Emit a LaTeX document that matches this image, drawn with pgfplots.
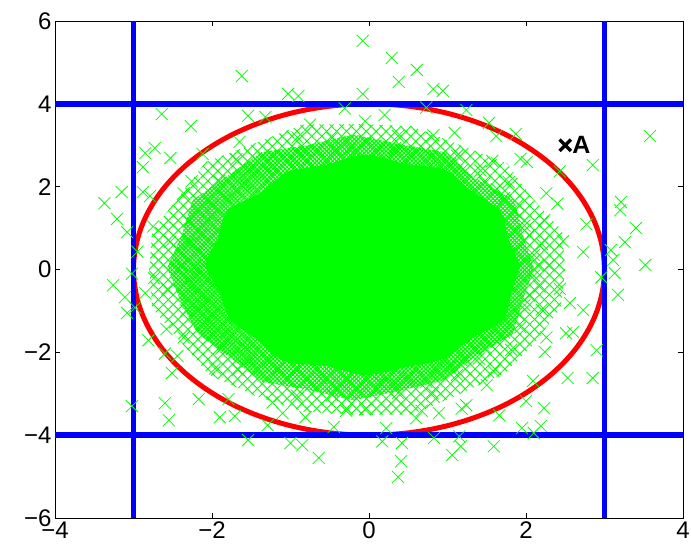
\documentclass[border=0pt]{standalone}
\usepackage{fontspec}
\setmainfont{Liberation Sans}
\usepackage{pgfplots}
\pgfplotsset{compat=1.18}
\usetikzlibrary{patterns.meta}
\definecolor{mgreen}{rgb}{0,1,0}
\definecolor{mblue}{rgb}{0,0,1}
\definecolor{mred}{rgb}{1,0,0}
\begin{document}
\begin{tikzpicture}
\path[use as bounding box] (-55pt,-39pt) rectangle (636pt,518pt);
\begin{axis}[
  scale only axis, width=628pt, height=497pt,
  xmin=-4, xmax=4, ymin=-6, ymax=6,
  xtick={-4,-2,0,2,4}, xticklabels={−4,−2,0,2,4},
  ytick={-6,-4,-2,0,2,4,6}, yticklabels={−6,−4,−2,0,2,4,6},
  tick align=inside, major tick length=5pt,
  tick style={black, line width=0.8pt},
  axis line style={black, line width=0.9pt},
  ticklabel style={font=\fontsize{24}{28}\selectfont},
  every axis plot/.append style={line join=round},
]
% outer, thinner part of the cloud (overlapping crosses)
\addplot[draw=none, pattern={Lines[angle=45,distance=7pt,line width=0.9pt]}, pattern color=mgreen] coordinates {
(2.50,0.00) (2.46,0.94) (2.08,1.72) (1.76,2.56) (1.15,3.01) (0.54,3.46) (-0.15,3.51) (-0.85,3.50)
(-1.46,3.04) (-2.08,2.59) (-2.42,1.76) (-2.76,0.94) (-2.80,0.00) (-2.76,-0.94) (-2.40,-1.74) (-2.04,-2.54)
(-1.46,-3.04) (-0.84,-3.43) (-0.15,-3.51) (0.55,-3.50) (1.15,-3.01) (1.72,-2.51) (2.12,-1.76) (2.44,-0.93)
} -- cycle;
\addplot[draw=none, pattern={Lines[angle=-45,distance=7pt,line width=0.9pt]}, pattern color=mgreen] coordinates {
(2.50,0.00) (2.46,0.94) (2.08,1.72) (1.76,2.56) (1.15,3.01) (0.54,3.46) (-0.15,3.51) (-0.85,3.50)
(-1.46,3.04) (-2.08,2.59) (-2.42,1.76) (-2.76,0.94) (-2.80,0.00) (-2.76,-0.94) (-2.40,-1.74) (-2.04,-2.54)
(-1.46,-3.04) (-0.84,-3.43) (-0.15,-3.51) (0.55,-3.50) (1.15,-3.01) (1.72,-2.51) (2.12,-1.76) (2.44,-0.93)
} -- cycle;
% dense part of the cloud
\addplot[draw=none, pattern={Lines[angle=45,distance=2.8pt,line width=1.1pt]}, pattern color=mgreen] coordinates {
(2.10,0.05) (1.96,0.84) (1.85,1.67) (1.36,2.19) (0.97,2.83) (0.38,3.03) (-0.20,3.26) (-0.78,3.00)
(-1.37,2.83) (-1.81,2.25) (-2.25,1.67) (-2.38,0.85) (-2.57,0.05) (-2.40,-0.76) (-2.19,-1.53) (-1.78,-2.11)
(-1.36,-2.71) (-0.78,-2.90) (-0.20,-3.16) (0.38,-2.93) (0.95,-2.68) (1.36,-2.09) (1.83,-1.56) (1.96,-0.74)
} -- cycle;
\addplot[draw=none, pattern={Lines[angle=-45,distance=2.8pt,line width=1.1pt]}, pattern color=mgreen] coordinates {
(2.10,0.05) (1.96,0.84) (1.85,1.67) (1.36,2.19) (0.97,2.83) (0.38,3.03) (-0.20,3.26) (-0.78,3.00)
(-1.37,2.83) (-1.81,2.25) (-2.25,1.67) (-2.38,0.85) (-2.57,0.05) (-2.40,-0.76) (-2.19,-1.53) (-1.78,-2.11)
(-1.36,-2.71) (-0.78,-2.90) (-0.20,-3.16) (0.38,-2.93) (0.95,-2.68) (1.36,-2.09) (1.83,-1.56) (1.96,-0.74)
} -- cycle;
% solid core of the cloud
\addplot[fill=mgreen, draw=mgreen, line width=1pt, smooth] coordinates {
(1.92,0.10) (1.77,0.74) (1.67,1.40) (1.31,1.87) (0.97,2.39) (0.46,2.54)
(-0.05,2.76) (-0.54,2.52) (-1.04,2.34) (-1.38,1.84) (-1.79,1.42) (-1.92,0.76)
(-2.07,0.10) (-1.90,-0.55) (-1.76,-1.20) (-1.42,-1.69) (-1.07,-2.21) (-0.54,-2.32)
(-0.05,-2.54) (0.46,-2.35) (0.95,-2.14) (1.30,-1.66) (1.70,-1.22) (1.81,-0.55) (1.92,0.10)
} -- cycle;
% scattered samples
\addplot[only marks, mark=x, mark size=8.5pt, mgreen, mark options={line width=0.75pt}] coordinates {
(2.15,0.10) (2.20,0.62) (1.98,1.06) (1.90,1.57) (1.63,1.94) (1.42,2.39) (1.03,2.54) (0.72,2.86)
(0.33,2.93) (-0.05,3.08) (-0.43,2.88) (-0.82,2.86) (-1.15,2.58) (-1.52,2.39) (-1.70,1.91) (-2.00,1.57)
(-2.11,1.08) (-2.30,0.62) (-2.21,0.10) (-2.27,-0.41) (-2.11,-0.88) (-2.03,-1.39) (-1.70,-1.71) (-1.50,-2.15)
(-1.15,-2.38) (-0.83,-2.71) (-0.43,-2.68) (-0.05,-2.84) (0.33,-2.73) (0.73,-2.71) (1.03,-2.34) (1.40,-2.15)
(1.63,-1.74) (1.93,-1.39) (1.98,-0.86) (2.17,-0.41)
(2.10,0.35) (2.04,0.83) (1.91,1.29) (1.72,1.72) (1.48,2.09) (1.19,2.41) (0.86,2.66) (0.51,2.82)
(0.14,2.91) (-0.24,2.91) (-0.61,2.82) (-0.96,2.66) (-1.29,2.41) (-1.58,2.09) (-1.82,1.72) (-2.01,1.29)
(-2.14,0.83) (-2.20,0.35) (-2.20,-0.15) (-2.14,-0.63) (-2.01,-1.09) (-1.82,-1.52) (-1.58,-1.89) (-1.29,-2.21)
(-0.96,-2.46) (-0.61,-2.62) (-0.24,-2.71) (0.14,-2.71) (0.51,-2.62) (0.86,-2.46) (1.19,-2.21) (1.48,-1.89)
(1.72,-1.52) (1.91,-1.09) (2.04,-0.63) (2.10,-0.15)
(2.29,0.10) (2.47,0.68) (2.23,1.19) (2.26,1.84) (1.78,2.11) (1.57,2.62) (1.12,2.75) (0.82,3.24)
(0.37,3.22) (-0.05,3.58) (-0.47,3.18) (-0.91,3.19) (-1.22,2.75) (-1.69,2.66) (-1.91,2.14) (-2.36,1.84)
(-2.30,1.17) (-2.53,0.67) (-2.39,0.10) (-2.57,-0.48) (-2.33,-0.99) (-2.36,-1.64) (-1.88,-1.91) (-1.67,-2.42)
(-1.22,-2.55) (-0.92,-3.04) (-0.47,-3.03) (-0.05,-3.38) (0.37,-2.98) (0.81,-2.99) (1.12,-2.55) (1.59,-2.46)
(1.81,-1.94) (2.26,-1.64) (2.20,-0.97) (2.43,-0.47)
(2.73,0.42) (2.77,1.09) (2.40,1.59) (2.43,2.37) (1.93,2.67) (1.62,3.22) (1.09,3.30) (0.73,3.91)
(0.20,3.73) (-0.31,3.89) (-0.75,3.50) (-1.32,3.68) (-1.65,3.08) (-2.12,2.79) (-2.26,2.13) (-2.79,1.77)
(-2.75,1.04) (-2.95,0.43) (-2.74,-0.21) (-2.98,-0.92) (-2.58,-1.44) (-2.44,-2.09) (-1.96,-2.39) (-1.79,-3.13)
(-1.23,-3.21) (-0.81,-3.57) (-0.29,-3.41) (0.22,-3.83) (0.67,-3.41) (1.18,-3.36) (1.50,-2.79) (2.09,-2.69)
(2.24,-1.99) (2.60,-1.51) (2.56,-0.81) (2.96,-0.19)
(-0.08,5.52) (-1.62,4.67) (-1.03,4.24) (-0.90,4.19) (-2.64,3.75) (-2.27,3.46) (-0.08,4.24) (-1.54,3.71)
(0.29,5.11) (0.61,4.82) (0.38,4.53) (0.82,4.36) (0.94,4.31) (3.58,3.22) (1.24,3.85) (1.53,3.54)
(1.87,3.27) (2.01,2.60) (2.85,2.52)
(-3.02,-3.30) (-2.60,-3.23) (-2.55,-3.64) (-2.17,-3.13) (-1.90,-3.57) (-1.71,-3.54) (-1.54,-4.12) (-1.00,-4.19)
(-0.85,-4.24) (-0.64,-4.55) (-1.29,-3.76) (-1.10,-3.47) (-0.45,-3.80)
(0.17,-4.15) (0.42,-4.19) (0.41,-4.63) (0.37,-5.01) (0.83,-4.07) (1.06,-4.48) (1.17,-4.27) (1.59,-4.27)
(1.15,-4.03) (1.95,-3.83) (2.10,-3.95) (2.19,-3.78) (2.23,-3.35) (2.00,-3.18) (1.66,-3.52) (1.24,-3.28)
(0.89,-3.47) (0.60,-3.59)
(-3.37,1.60) (-3.21,1.22) (-3.26,-0.38) (-3.15,1.87) (-3.08,0.90) (-3.08,-1.05) (-3.11,-0.67) (-3.02,-0.10)
(-2.88,2.47) (-2.85,2.81) (-2.88,1.87) (-2.73,2.93) (-2.53,2.69) (-2.81,-1.71) (-2.85,-0.57) (-2.60,-2.03)
(-2.51,-2.50)
(3.21,1.63) (3.20,1.43) (3.40,1.00) (3.26,0.66) (3.52,0.11) (3.13,-0.09) (3.17,-0.61) (3.08,0.47)
(3.11,0.23) (2.85,-2.62) (2.90,-1.95) (2.51,-1.54) (2.53,-2.62) (2.73,-0.98)
};
% ellipse
\addplot[mred, line width=5pt, smooth] coordinates {
(3,0) (2.988,0.349) (2.954,0.695) (2.898,1.035) (2.819,1.368) (2.719,1.690) (2.598,2.000) (2.457,2.294)
(2.298,2.571) (2.121,2.828) (1.928,3.064) (1.721,3.277) (1.500,3.464) (1.268,3.625) (1.026,3.759) (0.776,3.864)
(0.521,3.939) (0.261,3.985) (0,4)
(-0.261,3.985) (-0.521,3.939) (-0.776,3.864) (-1.026,3.759) (-1.268,3.625) (-1.500,3.464) (-1.721,3.277) (-1.928,3.064)
(-2.121,2.828) (-2.298,2.571) (-2.457,2.294) (-2.598,2.000) (-2.719,1.690) (-2.819,1.368) (-2.898,1.035) (-2.954,0.695)
(-2.988,0.349) (-3,0)
(-2.988,-0.349) (-2.954,-0.695) (-2.898,-1.035) (-2.819,-1.368) (-2.719,-1.690) (-2.598,-2.000) (-2.457,-2.294)
(-2.298,-2.571) (-2.121,-2.828) (-1.928,-3.064) (-1.721,-3.277) (-1.500,-3.464) (-1.268,-3.625) (-1.026,-3.759) (-0.776,-3.864)
(-0.521,-3.939) (-0.261,-3.985) (0,-4)
(0.261,-3.985) (0.521,-3.939) (0.776,-3.864) (1.026,-3.759) (1.268,-3.625) (1.500,-3.464) (1.721,-3.277) (1.928,-3.064)
(2.121,-2.828) (2.298,-2.571) (2.457,-2.294) (2.598,-2.000) (2.719,-1.690) (2.819,-1.368) (2.898,-1.035) (2.954,-0.695)
(2.988,-0.349) (3,0)
};
% box limits
\addplot[mblue, line width=5.5pt] coordinates {(-3,-6) (-3,6)};
\addplot[mblue, line width=5.5pt] coordinates {(3,-6) (3,6)};
\addplot[mblue, line width=5.5pt] coordinates {(-4,4) (4,4)};
\addplot[mblue, line width=5.5pt] coordinates {(-4,-4) (4,-4)};
% point A
\addplot[only marks, mark=x, mark size=8pt, black, mark options={line width=3.5pt}] coordinates {(2.5,3)}
  node[anchor=west, xshift=7pt, inner sep=0pt, font=\fontsize{25}{28}\selectfont\bfseries] {A};
\end{axis}
\end{tikzpicture}
\end{document}
